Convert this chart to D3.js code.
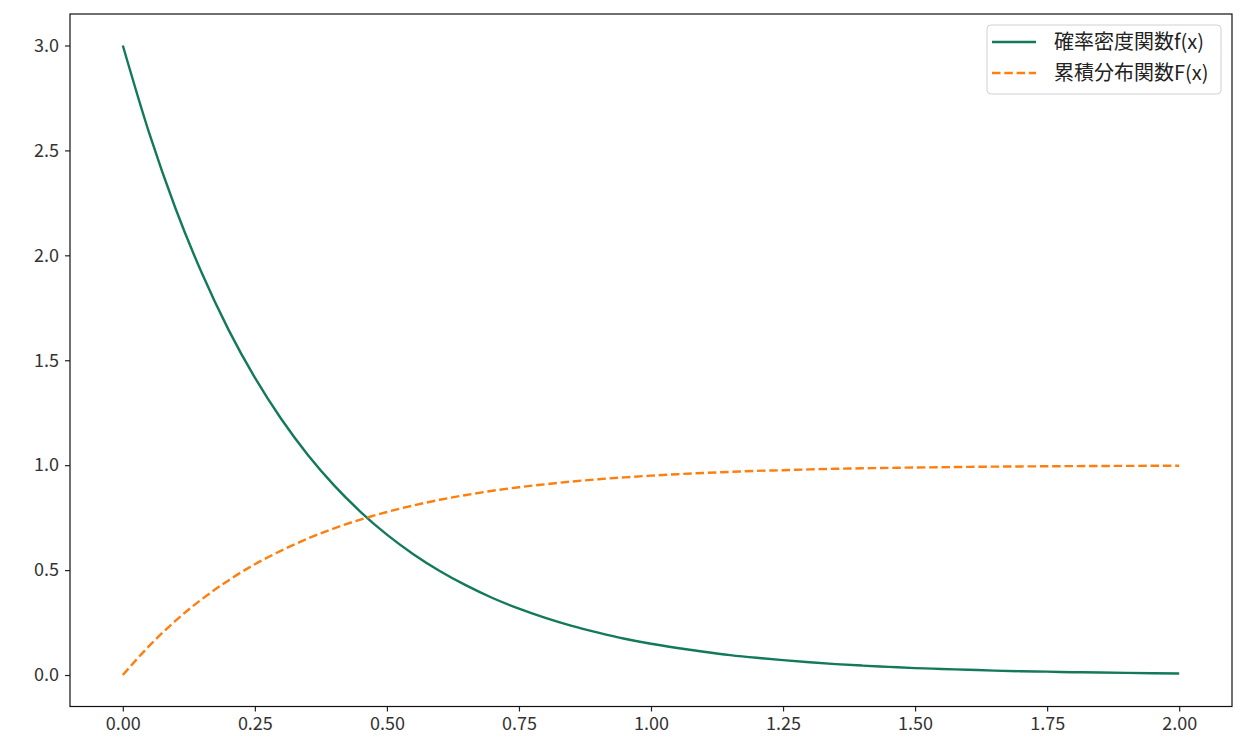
<!DOCTYPE html>
<html><head><meta charset="utf-8">
<script src="https://cdn.jsdelivr.net/npm/d3@7"></script>
<style>body{margin:0;background:#fff;} svg{display:block;}</style>
</head><body>
<svg id="c" width="1243" height="753"></svg>
<script>
const xValues = [0,0.05,0.10,0.15,0.20,0.25,0.30,0.35,0.40,0.45,0.50,0.55,0.60,0.65,0.70,0.75,0.80,0.85,0.90,0.95,1.00,1.05,1.10,1.15,1.20,1.25,1.30,1.35,1.40,1.45,1.50,1.55,1.60,1.65,1.70,1.75,1.80,1.85,1.90,1.95,2.00];
const pdfValues = [3.000,2.582,2.222,1.913,1.646,1.417,1.220,1.050,0.904,0.778,0.669,0.576,0.496,0.427,0.367,0.316,0.272,0.234,0.202,0.173,0.149,0.129,0.111,0.095,0.082,0.071,0.061,0.052,0.045,0.039,0.033,0.029,0.025,0.021,0.018,0.016,0.0135,0.0117,0.010,0.0086,0.0074];
const cdfValues = [0.000,0.139,0.259,0.362,0.451,0.528,0.593,0.650,0.699,0.741,0.777,0.808,0.835,0.858,0.878,0.895,0.909,0.922,0.933,0.942,0.950,0.957,0.963,0.968,0.973,0.976,0.980,0.983,0.985,0.987,0.989,0.990,0.992,0.993,0.994,0.9948,0.9955,0.9961,0.9967,0.9971,0.9975];
const xTicks = [0,0.25,0.5,0.75,1.0,1.25,1.5,1.75,2.0];
const yTicks = [0,0.5,1.0,1.5,2.0,2.5,3.0];
const seriesNames = ["確率密度関数f(x)","累積分布関数F(x)"];
const seriesColors = ["#13795b","#ff7f0e"];

const svg = d3.select("#c");
const L=70, R=1232, T=14, B=706.5;
const font = "'Noto Sans CJK JP', 'Noto Sans', sans-serif";
const x = d3.scaleLinear().domain([-0.1,2.1]).range([L,R]);
const y = d3.scaleLinear().domain([-0.15,3.15]).range([B,T]);

const line = (vals) => d3.line().x((d,i)=>x(xValues[i])).y(d=>y(d)).curve(d3.curveMonotoneX)(vals);

svg.append("path").attr("d", line(pdfValues)).attr("fill","none")
  .attr("stroke",seriesColors[0]).attr("stroke-width",2.4);
svg.append("path").attr("d", line(cdfValues)).attr("fill","none")
  .attr("stroke",seriesColors[1]).attr("stroke-width",2.4).attr("stroke-dasharray","8.5,3.8");

const xa = svg.append("g").attr("transform",`translate(0,${B})`)
  .call(d3.axisBottom(x).tickValues(xTicks).tickFormat(d3.format(".2f")).tickSize(5).tickPadding(6));
const ya = svg.append("g").attr("transform",`translate(${L},0)`)
  .call(d3.axisLeft(y).tickValues(yTicks).tickFormat(d3.format(".1f")).tickSize(5).tickPadding(6));
[xa,ya].forEach(g=>{
  g.select(".domain").remove();
  g.selectAll("line").attr("stroke","#222").attr("stroke-width",1.2);
  g.selectAll("text").attr("font-family",font).attr("font-size",18).attr("fill","#333");
});

svg.append("rect").attr("x",L).attr("y",T).attr("width",R-L).attr("height",B-T)
  .attr("fill","none").attr("stroke","#111").attr("stroke-width",1.2);

// legend
const lg = svg.append("g");
lg.append("rect").attr("x",987).attr("y",25).attr("width",234).attr("height",69).attr("rx",4)
  .attr("fill","rgba(255,255,255,0.8)").attr("stroke","#d0d0d0").attr("stroke-width",1);
seriesNames.forEach((name,i)=>{
  const yy = 42 + i*31;
  lg.append("line").attr("x1",992).attr("x2",1036).attr("y1",yy).attr("y2",yy)
    .attr("stroke",seriesColors[i]).attr("stroke-width",2.4)
    .attr("stroke-dasharray", i===1 ? "8.5,3.8" : null);
  lg.append("text").attr("x",1054).attr("y",yy).attr("dy","0.35em")
    .attr("font-family",font).attr("font-size",20).attr("fill","#222").text(name);
});
</script>
</body></html>
